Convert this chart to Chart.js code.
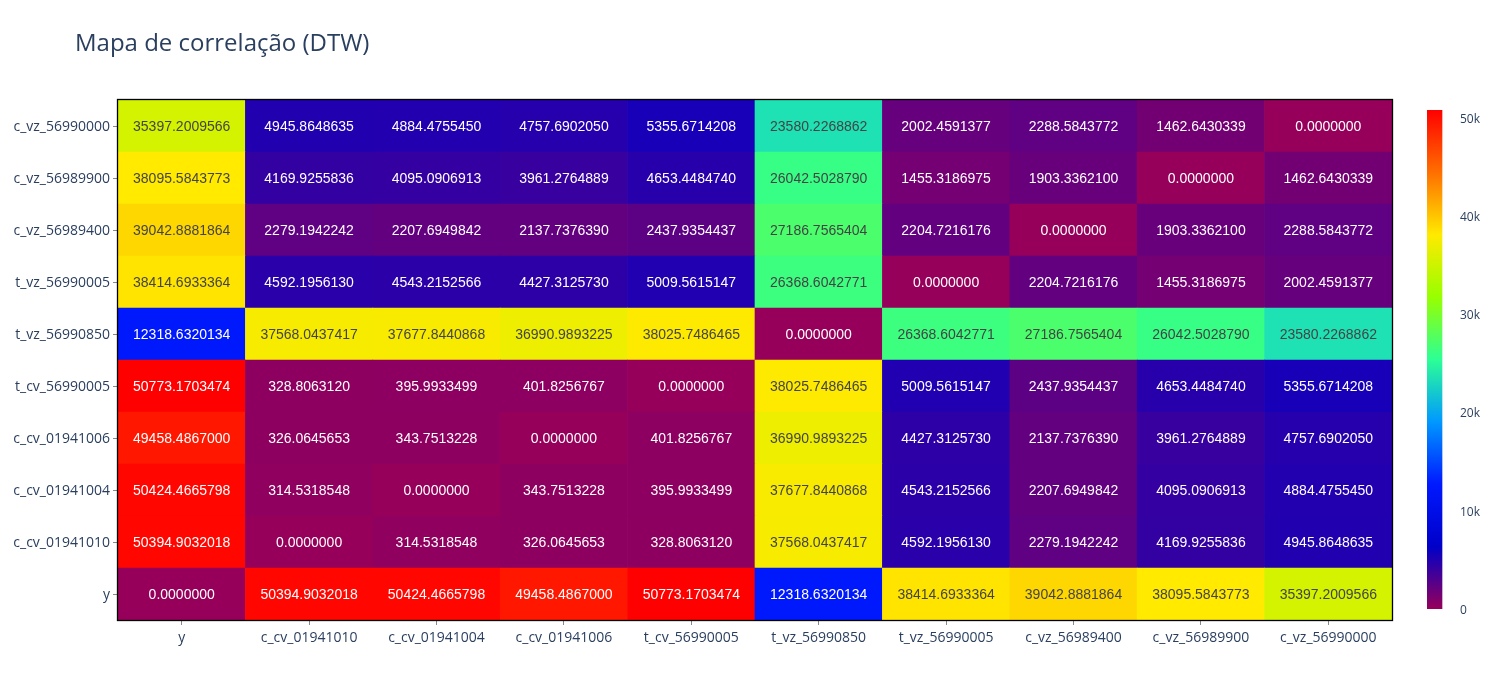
<!DOCTYPE html>
<html>
<head>
<meta charset="utf-8">
<script src="https://cdn.jsdelivr.net/npm/chart.js@4/dist/chart.umd.min.js"></script>
<style>
  html, body { margin: 0; padding: 0; background: #fff; }
  #wrap { position: relative; width: 1500px; height: 700px; overflow: hidden; }
  #title { position: absolute; left: 75px; top: 27px; font-family: "Open Sans", sans-serif; font-size: 24px; line-height: 30px; color: #2a3f5f; white-space: nowrap; }
  #main { position: absolute; left: 0; top: 0; }
  #cbar { position: absolute; left: 1400px; top: 90px; }
</style>
</head>
<body>
<div id="wrap">
  <canvas id="main" width="1500" height="700"></canvas>
  <canvas id="cbar" width="100" height="540"></canvas>
  <div id="title">Mapa de correlação (DTW)</div>
</div>
<script>
// Column categories (x axis, left to right)
const columnLabels = ["y", "c_cv_01941010", "c_cv_01941004", "c_cv_01941006", "t_cv_56990005", "t_vz_56990850", "t_vz_56990005", "c_vz_56989400", "c_vz_56989900", "c_vz_56990000"];
// Row categories (y axis, bottom to top)
const rowLabels = ["y", "c_cv_01941010", "c_cv_01941004", "c_cv_01941006", "t_cv_56990005", "t_vz_56990850", "t_vz_56990005", "c_vz_56989400", "c_vz_56989900", "c_vz_56990000"];

// DTW distance values, one array per row (bottom to top), in column order
const row_y            = [0.0000000, 50394.9032018, 50424.4665798, 49458.4867000, 50773.1703474, 12318.6320134, 38414.6933364, 39042.8881864, 38095.5843773, 35397.2009566];
const row_c_cv_01941010 = [50394.9032018, 0.0000000, 314.5318548, 326.0645653, 328.8063120, 37568.0437417, 4592.1956130, 2279.1942242, 4169.9255836, 4945.8648635];
const row_c_cv_01941004 = [50424.4665798, 314.5318548, 0.0000000, 343.7513228, 395.9933499, 37677.8440868, 4543.2152566, 2207.6949842, 4095.0906913, 4884.4755450];
const row_c_cv_01941006 = [49458.4867000, 326.0645653, 343.7513228, 0.0000000, 401.8256767, 36990.9893225, 4427.3125730, 2137.7376390, 3961.2764889, 4757.6902050];
const row_t_cv_56990005 = [50773.1703474, 328.8063120, 395.9933499, 401.8256767, 0.0000000, 38025.7486465, 5009.5615147, 2437.9354437, 4653.4484740, 5355.6714208];
const row_t_vz_56990850 = [12318.6320134, 37568.0437417, 37677.8440868, 36990.9893225, 38025.7486465, 0.0000000, 26368.6042771, 27186.7565404, 26042.5028790, 23580.2268862];
const row_t_vz_56990005 = [38414.6933364, 4592.1956130, 4543.2152566, 4427.3125730, 5009.5615147, 26368.6042771, 0.0000000, 2204.7216176, 1455.3186975, 2002.4591377];
const row_c_vz_56989400 = [39042.8881864, 2279.1942242, 2207.6949842, 2137.7376390, 2437.9354437, 27186.7565404, 2204.7216176, 0.0000000, 1903.3362100, 2288.5843772];
const row_c_vz_56989900 = [38095.5843773, 4169.9255836, 4095.0906913, 3961.2764889, 4653.4484740, 26042.5028790, 1455.3186975, 1903.3362100, 0.0000000, 1462.6430339];
const row_c_vz_56990000 = [35397.2009566, 4945.8648635, 4884.4755450, 4757.6902050, 5355.6714208, 23580.2268862, 2002.4591377, 2288.5843772, 1462.6430339, 0.0000000];

const matrixRows = [row_y, row_c_cv_01941010, row_c_cv_01941004, row_c_cv_01941006, row_t_cv_56990005, row_t_vz_56990850, row_t_vz_56990005, row_c_vz_56989400, row_c_vz_56989900, row_c_vz_56990000];

// Colour bar tick values
const colorbarTicks = [0, 10000, 20000, 30000, 40000, 50000];
const colorbarTickLabels = ["0", "10k", "20k", "30k", "40k", "50k"];

// Plotly "Rainbow" colour scale
const scaleStops = [
  [0.000, [150, 0, 90]],
  [0.125, [0, 0, 200]],
  [0.250, [0, 25, 255]],
  [0.375, [0, 152, 255]],
  [0.500, [44, 255, 150]],
  [0.625, [151, 255, 0]],
  [0.750, [255, 234, 0]],
  [0.875, [255, 111, 0]],
  [1.000, [255, 0, 0]]
];

const zMin = Math.min(...matrixRows.flat());
const zMax = Math.max(...matrixRows.flat());

function rgbFor(v) {
  let t = (v - zMin) / (zMax - zMin);
  t = Math.max(0, Math.min(1, t));
  for (let k = 1; k < scaleStops.length; k++) {
    const [t1, c1] = scaleStops[k];
    const [t0, c0] = scaleStops[k - 1];
    if (t <= t1) {
      const f = (t - t0) / (t1 - t0);
      return c0.map((c, i) => Math.round(c + (c1[i] - c) * f));
    }
  }
  return scaleStops[scaleStops.length - 1][1];
}
function colorFor(v) { const c = rgbFor(v); return `rgb(${c[0]},${c[1]},${c[2]})`; }
function textColorFor(v) {
  const c = rgbFor(v);
  const b = (c[0] * 299 + c[1] * 587 + c[2] * 114) / 1000;
  return b < 128 ? '#ffffff' : '#444444';
}

const tickFont = { family: "'Open Sans', sans-serif", size: 14 };
const tickColor = '#2a3f5f';

const cellTextPlugin = {
  id: 'cellText',
  afterDatasetsDraw(chart) {
    const ctx = chart.ctx;
    ctx.save();
    ctx.font = "14px 'Liberation Sans', Arial, sans-serif";
    ctx.textAlign = 'center';
    ctx.textBaseline = 'middle';
    chart.data.datasets.forEach((ds, i) => {
      const meta = chart.getDatasetMeta(i);
      meta.data.forEach((bar, j) => {
        const p = bar.getProps(['x', 'y', 'base'], true);
        const v = matrixRows[i][j];
        ctx.fillStyle = textColorFor(v);
        ctx.fillText(v.toFixed(7), p.x, (p.y + p.base) / 2 + 1.5);
      });
    });
    // plot frame
    const a = chart.chartArea;
    ctx.strokeStyle = '#000';
    ctx.lineWidth = 1.3;
    ctx.strokeRect(a.left - 0.5, a.top - 0.5, a.right - a.left + 1, a.bottom - a.top + 1);
    ctx.restore();
  }
};

new Chart(document.getElementById('main'), {
  type: 'bar',
  data: {
    labels: columnLabels,
    datasets: matrixRows.map((row, i) => ({
      label: rowLabels[i],
      data: row.map(() => 1),
      backgroundColor: row.map(colorFor),
      borderWidth: 0,
      barPercentage: 1,
      categoryPercentage: 1
    }))
  },
  options: {
    responsive: false,
    devicePixelRatio: 1,
    animation: false,
    events: [],
    layout: { padding: { top: 100, right: 108, left: 0, bottom: 0 } },
    plugins: { legend: { display: false }, tooltip: { enabled: false }, title: { display: false } },
    scales: {
      x: {
        type: 'category',
        stacked: true,
        offset: true,
        grid: { display: true, drawOnChartArea: false, offset: false, tickLength: 5, color: '#444', tickColor: '#888' },
        border: { display: false },
        ticks: { font: tickFont, color: tickColor, padding: 5, maxRotation: 0, autoSkip: false },
        afterFit(scale) { scale.height = 80; }
      },
      y: {
        type: 'linear',
        stacked: true,
        min: 0,
        max: rowLabels.length,
        afterBuildTicks(scale) { scale.ticks = rowLabels.map((_, i) => ({ value: i + 0.5 })); },
        grid: { display: true, drawOnChartArea: false, tickLength: 5, color: '#444', tickColor: '#888' },
        border: { display: false },
        ticks: { font: tickFont, color: tickColor, padding: 3, labelOffset: 1.5, autoSkip: false, callback: (v, idx) => rowLabels[idx] },
        afterFit(scale) { scale.width = 118; }
      }
    }
  },
  plugins: [cellTextPlugin]
});

// Colour bar
new Chart(document.getElementById('cbar'), {
  type: 'bar',
  data: {
    labels: ['z'],
    datasets: [{
      data: [[zMin, zMax]],
      borderWidth: 0,
      barPercentage: 1,
      categoryPercentage: 1,
      backgroundColor(ctx) {
        const chart = ctx.chart;
        const ys = chart.scales.y;
        if (!chart.chartArea || !ys) return 'rgba(0,0,0,0)';
        const g = chart.ctx.createLinearGradient(0, ys.getPixelForValue(zMin), 0, ys.getPixelForValue(zMax));
        scaleStops.forEach(([t, c]) => g.addColorStop(t, `rgb(${c[0]},${c[1]},${c[2]})`));
        return g;
      }
    }]
  },
  options: {
    responsive: false,
    devicePixelRatio: 1,
    animation: false,
    events: [],
    layout: { padding: { top: 20, bottom: 21, left: 27, right: 0 } },
    plugins: { legend: { display: false }, tooltip: { enabled: false } },
    scales: {
      x: { display: false, offset: false },
      y: {
        position: 'right',
        min: zMin,
        max: zMax,
        afterBuildTicks(scale) { scale.ticks = colorbarTicks.map(v => ({ value: v })); },
        grid: { display: false, drawTicks: false },
        border: { display: false },
        ticks: { font: { family: "'Open Sans', sans-serif", size: 12 }, color: tickColor, padding: 3, labelOffset: 1.5, callback: (v, idx) => colorbarTickLabels[idx] },
        afterFit(scale) { scale.width = 43; }
      }
    }
  }
});
</script>
</body>
</html>
